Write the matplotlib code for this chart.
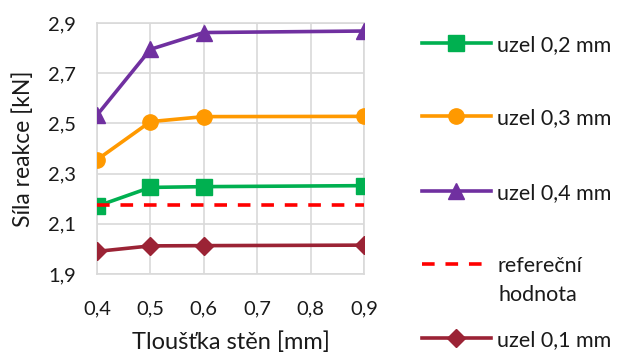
import matplotlib.pyplot as plt
from matplotlib.ticker import FuncFormatter, FixedLocator, MultipleLocator

# thickness of walls [mm]
x_tloustka = [0.4, 0.5, 0.6, 0.9]

uzel_02 = [2.170, 2.245, 2.248, 2.252]
uzel_03 = [2.355, 2.507, 2.527, 2.528]
uzel_04 = [2.533, 2.795, 2.862, 2.868]
uzel_01 = [1.990, 2.012, 2.013, 2.015]
referencni = [2.175, 2.175, 2.175, 2.175]

y_ticks = [1.9, 2.1, 2.3, 2.5, 2.7, 2.9]

plt.rcParams['font.family'] = ['Lato', 'DejaVu Sans']
txt = '#1a1a1a'

fig = plt.figure(figsize=(6.19, 3.59), dpi=100)
ax = fig.add_axes([97 / 619, 1 - 274 / 359, (364 - 97) / 619, (274 - 23) / 359])

lw = 2.6
h1, = ax.plot(x_tloustka, uzel_02, color='#00B050', lw=lw, marker='s', ms=11, zorder=5)
h2, = ax.plot(x_tloustka, uzel_03, color='#FF9900', lw=lw, marker='o', ms=11, zorder=5)
h3, = ax.plot(x_tloustka, uzel_04, color='#7030A0', lw=lw, marker='^', ms=12, zorder=5)
h4, = ax.plot(x_tloustka, referencni, color='#FF0000', lw=lw, ls=(0, (3.5, 3)), zorder=6)
h5, = ax.plot(x_tloustka, uzel_01, color='#9B2335', lw=lw, marker='D', ms=9, zorder=5)

ax.set_xlim(0.4, 0.9)
ax.set_ylim(1.9, 2.9)
ax.xaxis.set_major_locator(MultipleLocator(0.1))
ax.yaxis.set_major_locator(FixedLocator(y_ticks))
comma = FuncFormatter(lambda v, p: f'{v:.1f}'.replace('.', ','))
ax.xaxis.set_major_formatter(comma)
ax.yaxis.set_major_formatter(comma)

ax.grid(True, color='#D9D9D9', lw=1.2)
ax.set_axisbelow(True)
for s in ax.spines.values():
    s.set_color('#D9D9D9')
    s.set_linewidth(1.2)
ax.tick_params(axis='y', length=0, labelsize=14.5, colors=txt, pad=15)
ax.tick_params(axis='x', length=0, labelsize=14.5, colors=txt, pad=19)

ax.set_xlabel('Tloušťka stěn [mm]', fontsize=17, color=txt)
ax.set_ylabel('Síla reakce [kN]', fontsize=16.5, color=txt)
ax.xaxis.set_label_coords(0.5, -(331 - 274) / 251, transform=ax.transAxes)
ax.yaxis.set_label_coords(-(97 - 34) / 267, 0.5, transform=ax.transAxes)

# legend entries, one per row like the excel legend
entries = [(h1, 'uzel 0,2 mm', 45), (h2, 'uzel 0,3 mm', 118), (h3, 'uzel 0,4 mm', 193),
           (h4, 'refereční', 266), (h5, 'uzel 0,1 mm', 340)]
for h, lab, yc in entries:
    fig.legend(handles=[h], labels=[lab], loc='center left',
               bbox_to_anchor=(422 / 619, 1 - yc / 359), frameon=False,
               borderpad=0, borderaxespad=0, fontsize=15.5,
               handlelength=3.2, handletextpad=0.3, labelcolor=txt)
fig.text(498 / 619, 1 - 295 / 359, 'hodnota', fontsize=15.5, color=txt, va='center', ha='left')

fig.savefig('out.png', dpi=100)
